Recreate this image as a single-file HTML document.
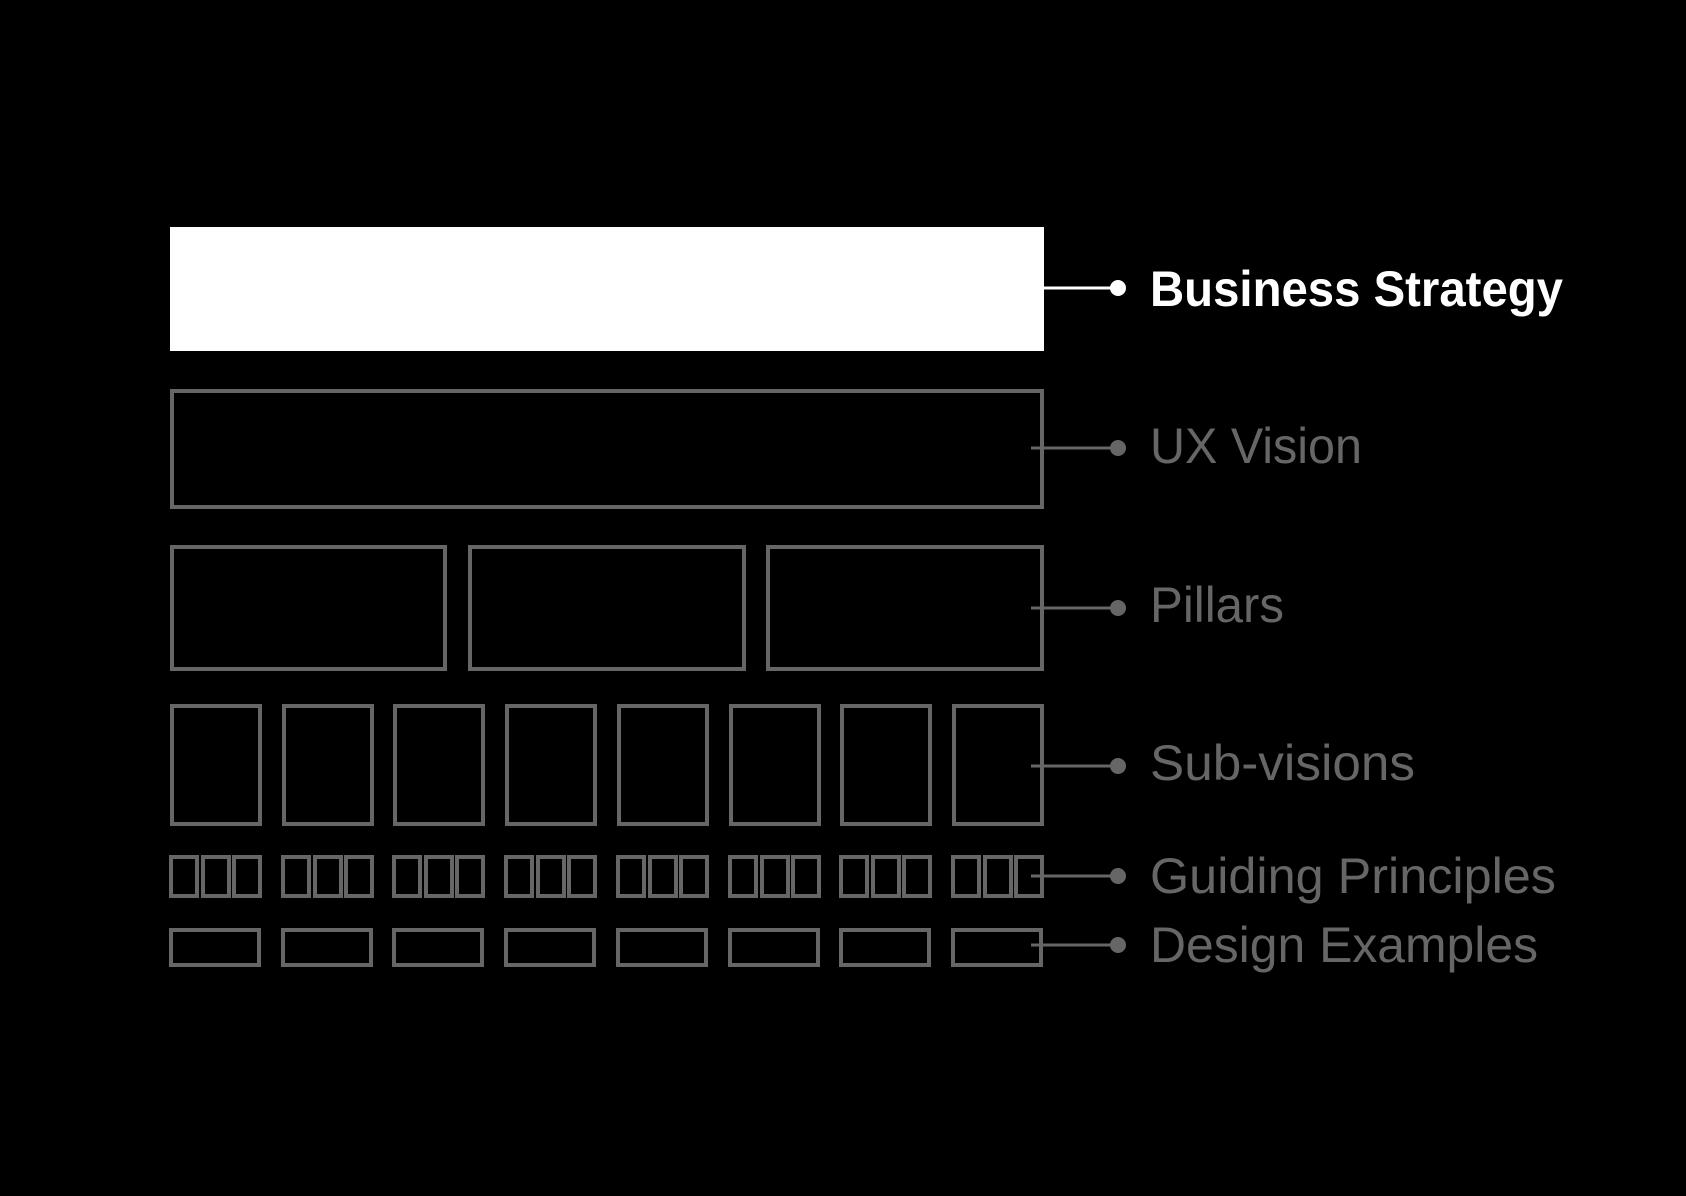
<!DOCTYPE html>
<html><head><style>html,body{margin:0;padding:0;background:#000;}svg{display:block}</style></head>
<body>
<svg width="1686" height="1196" viewBox="0 0 1686 1196" xmlns="http://www.w3.org/2000/svg">
<rect width="1686" height="1196" fill="#000"/>
<rect x="170" y="227" width="874" height="124" fill="#fff"/>
<g fill="none" stroke="#666" stroke-width="4">
<rect x="172" y="391" width="870" height="116"/>
<rect x="172" y="547" width="273" height="122"/>
<rect x="470" y="547" width="274" height="122"/>
<rect x="768" y="547" width="274" height="122"/>
<g id="sv">
<rect x="172" y="706" width="88" height="118"/>
</g>
<rect x="284" y="706" width="88" height="118"/>
<rect x="395" y="706" width="88" height="118"/>
<rect x="507" y="706" width="88" height="118"/>
<rect x="619" y="706" width="88" height="118"/>
<rect x="731" y="706" width="88" height="118"/>
<rect x="842" y="706" width="88" height="118"/>
<rect x="954" y="706" width="88" height="118"/>
</g>
<g fill="none" stroke="#666" stroke-width="4">
<g id="gp"><rect x="171" y="857" width="26" height="39"/><rect x="203" y="857" width="26" height="39"/><rect x="234" y="857" width="26" height="39"/></g>
<use href="#gp" x="112"/><use href="#gp" x="223"/><use href="#gp" x="335"/><use href="#gp" x="447"/><use href="#gp" x="559"/><use href="#gp" x="670"/><use href="#gp" x="782"/>
<g id="de"><rect x="171" y="930" width="88" height="35"/></g>
<use href="#de" x="112"/><use href="#de" x="223"/><use href="#de" x="335"/><use href="#de" x="447"/><use href="#de" x="559"/><use href="#de" x="670"/><use href="#de" x="782"/>
</g>
<line x1="1044" y1="288" x2="1118" y2="288" stroke="#fff" stroke-width="3"/>
<circle cx="1118" cy="288" r="8" fill="#fff"/>
<g stroke="#666" stroke-width="3">
<line x1="1031" y1="448" x2="1118" y2="448"/>
<line x1="1031" y1="608" x2="1118" y2="608"/>
<line x1="1031" y1="766" x2="1118" y2="766"/>
<line x1="1031" y1="876" x2="1118" y2="876"/>
<line x1="1031" y1="945" x2="1118" y2="945"/>
</g>
<g fill="#666">
<circle cx="1118" cy="448" r="8"/><circle cx="1118" cy="608" r="8"/><circle cx="1118" cy="766" r="8"/><circle cx="1118" cy="876" r="8"/><circle cx="1118" cy="945" r="8"/>
</g>
<g font-family="Liberation Sans, sans-serif" font-size="50">
<text x="1150" y="306" fill="#fff" font-weight="bold" textLength="413" lengthAdjust="spacingAndGlyphs">Business Strategy</text>
<g fill="#666">
<text x="1150" y="463" textLength="212" lengthAdjust="spacingAndGlyphs">UX Vision</text>
<text x="1150" y="622" textLength="134" lengthAdjust="spacingAndGlyphs">Pillars</text>
<text x="1150" y="780" textLength="265" lengthAdjust="spacingAndGlyphs">Sub-visions</text>
<text x="1150" y="893" textLength="406" lengthAdjust="spacingAndGlyphs">Guiding Principles</text>
<text x="1150" y="962" textLength="388" lengthAdjust="spacingAndGlyphs">Design Examples</text>
</g>
</g>
</svg>
</body></html>
